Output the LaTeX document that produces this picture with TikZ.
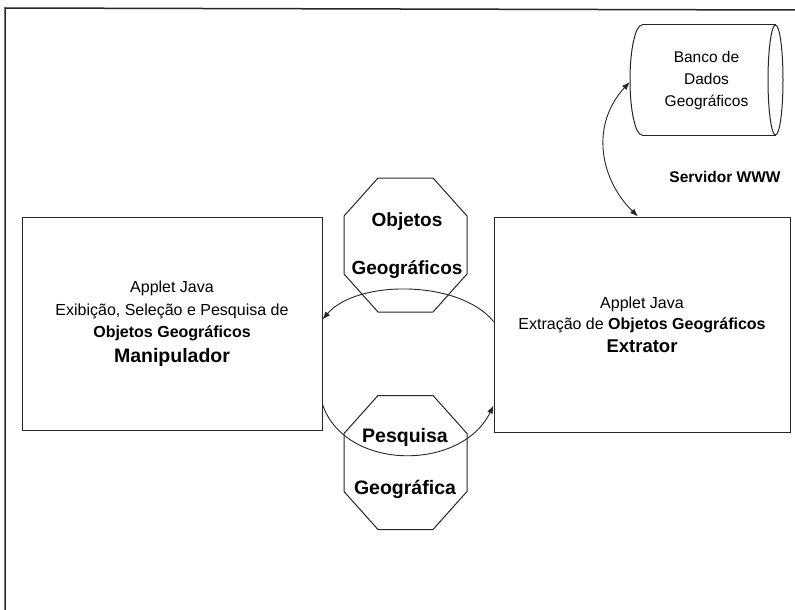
\documentclass[tikz,border=0pt]{standalone}
\usepackage{fontspec}
\setmainfont{Liberation Sans}
\usetikzlibrary{arrows.meta}
\begin{document}
\begin{tikzpicture}[x=1pt,y=-1pt,
  ink/.style={draw=black!85, line width=1pt},
  appbox/.style={ink, rectangle, align=center, inner sep=0pt},
  conn/.style={draw=black!85, line width=0.9pt},
  tip/.style={-{Latex[length=8pt,width=6pt]}},
  bothtips/.style={{Latex[length=8pt,width=6pt]}-{Latex[length=8pt,width=6pt]}},
  octtext/.style={align=center, inner sep=0pt, font=\bfseries},
  octo/.pic={\draw[ink] (-27.5,-67) -- (27.5,-67) -- (61.5,-29) -- (61.5,29)
     -- (27.5,67) -- (-27.5,67) -- (-61.5,29) -- (-61.5,-29) -- cycle;}]
\useasboundingbox (0,0) rectangle (795,610);

% page frame (left and top rules)
\draw[ink, line width=1.5pt] (5,610) -- (5,8) -- (795,10);

% database cylinder
\node[inner sep=0pt, minimum width=153pt, minimum height=110pt, align=center,
      font=\fontsize{15.5}{22}\selectfont] (db) at (706.5,80)
  {Banco de\\Dados\\Geográficos};
\draw[ink] (642,25) -- (776,25);
\draw[ink] (642,135) -- (776,135);
\draw[ink] (642,25) arc[start angle=-90, end angle=-270, x radius=12, y radius=55];
\draw[ink] (775.5,80) ellipse [x radius=7.5, y radius=55];

\node[font=\bfseries\fontsize{15.5}{18}\selectfont] (www) at (725,177) {Servidor WWW};

% applet boxes
\node[appbox, minimum width=300pt, minimum height=213pt,
      font=\fontsize{16}{22.5}\selectfont] (man) at (172,323.5)
  {Applet Java\\Exibição, Seleção e Pesquisa de\\\textbf{Objetos Geográficos}\\[2pt]
   {\fontsize{19.5}{23}\selectfont\bfseries Manipulador}};
\node[appbox, minimum width=296pt, minimum height=215pt,
      font=\fontsize{16}{21}\selectfont] (ext) at (642,324.5)
  {Applet Java\\Extração de \textbf{Objetos Geográficos}\\[2pt]
   {\fontsize{18.5}{23}\selectfont\bfseries Extrator}};

% message octagons
\pic at (405.5,245) {octo};
\node[octtext, font=\bfseries\fontsize{19}{48}\selectfont] (objs) at (407,246)
  {Objetos\\Geográficos};
\pic at (405.5,462.5) {octo};
\node[octtext, font=\bfseries\fontsize{19.5}{52}\selectfont] (pesq) at (405,463)
  {Pesquisa\\Geográfica};

% connectors
\draw[conn, tip] ([yshift=-105pt]ext.north west)
  .. controls +(-34,-42) and +(34,-40) .. ([yshift=-103pt]man.north east);
\draw[conn, tip] ([yshift=-188pt]man.north east)
  .. controls +(23,67) and +(-32,66) .. ([yshift=-189pt]ext.north west);
\draw[conn, bothtips] ([yshift=-2pt]db.west)
  .. controls +(-40,43) and +(-38,-37) .. ([xshift=-4pt]ext.north);
\end{tikzpicture}
\end{document}
